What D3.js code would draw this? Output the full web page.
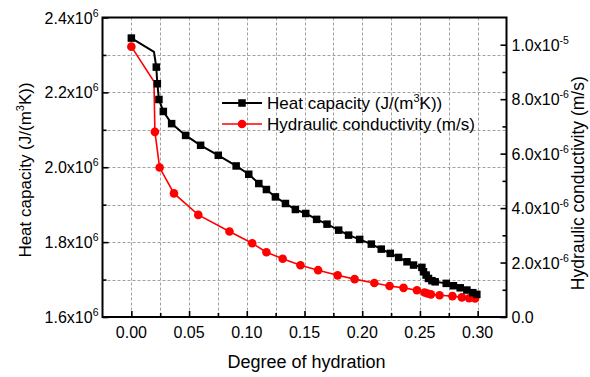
<!DOCTYPE html>
<html>
<head>
<meta charset="utf-8">
<script src="https://cdn.jsdelivr.net/npm/d3@7"></script>
<style>
  html, body { margin: 0; padding: 0; background: #fff; }
  svg { display: block; font-family: Arial, "Liberation Sans", sans-serif; }
</style>
</head>
<body>
<svg id="chart" width="590" height="377"></svg>
<script>
// Heat capacity (left axis), J/(m^3 K)
const heatX = [0, 0.0196, 0.0216, 0.0225, 0.0239, 0.0277, 0.0349, 0.047, 0.06, 0.0753, 0.0908,
  0.1017, 0.1104, 0.117, 0.1248, 0.1335, 0.1421, 0.1511, 0.1605, 0.1695, 0.1796, 0.1882,
  0.1978, 0.2079, 0.2165, 0.2243, 0.2315, 0.2388, 0.2445, 0.2517, 0.2531, 0.2554, 0.2574,
  0.2604, 0.2632, 0.2728, 0.279, 0.2849, 0.2907, 0.2958, 0.2993];
const heatY = [2.345e6, 2.308e6, 2.2675e6, 2.223e6, 2.181e6, 2.149e6, 2.1165e6, 2.085e6, 2.0587e6,
  2.032e6, 2.0035e6, 1.9813e6, 1.9565e6, 1.9405e6, 1.9208e6, 1.9032e6, 1.8872e6, 1.8765e6,
  1.8608e6, 1.848e6, 1.832e6, 1.8187e6, 1.8072e6, 1.7947e6, 1.7813e6, 1.7699e6, 1.7592e6,
  1.7475e6, 1.7387e6, 1.7325e6, 1.7208e6, 1.712e6, 1.703e6, 1.697e6, 1.694e6, 1.6898e6,
  1.6835e6, 1.678e6, 1.672e6, 1.665e6, 1.6605e6];
// vertices of the polyline that carry no symbol
const heatPlain = [1];

// Hydraulic conductivity (right axis), m/s
const condX = [0, 0.0196, 0.0204, 0.0245, 0.0369, 0.058, 0.085, 0.1047, 0.117, 0.1311, 0.1465,
  0.1618, 0.1787, 0.1934, 0.2105, 0.2237, 0.2358, 0.2474, 0.254, 0.2566, 0.2595, 0.267,
  0.2782, 0.2863, 0.2926, 0.2978];
const condY = [9.93e-6, 8.65e-6, 6.8e-6, 5.49e-6, 4.54e-6, 3.75e-6, 3.14e-6, 2.71e-6, 2.38e-6,
  2.14e-6, 1.9e-6, 1.72e-6, 1.53e-6, 1.39e-6, 1.25e-6, 1.14e-6, 1.07e-6, 0.985e-6, 0.9e-6,
  0.865e-6, 0.83e-6, 0.8e-6, 0.766e-6, 0.72e-6, 0.69e-6, 0.68e-6];
const condPlain = [1];

const xTicks = [0, 0.05, 0.10, 0.15, 0.20, 0.25, 0.30];
const xMinor = [-0.025, 0.025, 0.075, 0.125, 0.175, 0.225, 0.275, 0.325];
const leftTicks = [1.6e6, 1.8e6, 2.0e6, 2.2e6, 2.4e6];
const leftMinor = [1.7e6, 1.9e6, 2.1e6, 2.3e6];
const leftLabels = ["1.6", "1.8", "2.0", "2.2", "2.4"];
const rightTicks = [0, 2e-6, 4e-6, 6e-6, 8e-6, 1e-5];
const rightMinor = [1e-6, 3e-6, 5e-6, 7e-6, 9e-6];
const rightLabels = [["0.0", ""], ["2.0", "-6"], ["4.0", "-6"], ["6.0", "-6"], ["8.0", "-6"], ["1.0", "-5"]];
const seriesNames = ["Heat capacity (J/(m", "Hydraulic conductivity (m/s)"];

const svg = d3.select("#chart");
const L = 102.5, R = 506.5, T = 17.5, B = 317;

const x = d3.scaleLinear().domain([-0.025, 0.325]).range([L, R]);
const yL = d3.scaleLinear().domain([1.6e6, 2.4e6]).range([B, T]);
const yR = d3.scaleLinear().domain([0, 1.1e-5]).range([B, T]);

// grid
const grid = svg.append("g").attr("stroke", "#a0a0a0").attr("stroke-width", 1)
  .attr("stroke-dasharray", "3,2").attr("fill", "none");
xTicks.concat(xMinor).filter(v => v > -0.02 && v < 0.32).forEach(v => {
  grid.append("line").attr("x1", Math.round(x(v)) + 0.5).attr("x2", Math.round(x(v)) + 0.5)
    .attr("y1", T).attr("y2", B);
});
leftTicks.concat(leftMinor).filter(v => v > 1.61e6 && v < 2.39e6).forEach(v => {
  grid.append("line").attr("y1", Math.round(yL(v)) + 0.5).attr("y2", Math.round(yL(v)) + 0.5)
    .attr("x1", L).attr("x2", R);
});

// axes (ticks inward)
function styleAxis(g) {
  g.selectAll(".domain").remove();
  g.selectAll(".tick line").attr("stroke", "#000").attr("stroke-width", 1.6);
  g.selectAll(".tick text").remove();
}
svg.append("g").attr("transform", `translate(0,${B})`)
  .call(d3.axisBottom(x).tickValues(xTicks).tickSize(-6)).call(styleAxis);
svg.append("g").attr("transform", `translate(0,${B})`)
  .call(d3.axisBottom(x).tickValues(xMinor.slice(1, -1)).tickSize(-4)).call(styleAxis);
svg.append("g").attr("transform", `translate(${L},0)`)
  .call(d3.axisLeft(yL).tickValues(leftTicks).tickSize(-6)).call(styleAxis);
svg.append("g").attr("transform", `translate(${L},0)`)
  .call(d3.axisLeft(yL).tickValues(leftMinor).tickSize(-4)).call(styleAxis);
svg.append("g").attr("transform", `translate(${R},0)`)
  .call(d3.axisRight(yR).tickValues(rightTicks).tickSize(-6)).call(styleAxis);
svg.append("g").attr("transform", `translate(${R},0)`)
  .call(d3.axisRight(yR).tickValues(rightMinor).tickSize(-4)).call(styleAxis);

// frame
svg.append("rect").attr("x", L).attr("y", T).attr("width", R - L).attr("height", B - T)
  .attr("fill", "none").attr("stroke", "#000").attr("stroke-width", 2);

// tick labels
const fs = 16;
xTicks.forEach(v => {
  svg.append("text").attr("x", x(v)).attr("y", B + 21).attr("text-anchor", "middle")
    .attr("font-size", fs).text(v.toFixed(2));
});
leftTicks.forEach((v, i) => {
  const t = svg.append("text").attr("x", L - 4).attr("y", yL(v) + 6)
    .attr("text-anchor", "end").attr("font-size", fs);
  t.append("tspan").text(leftLabels[i] + "x10");
  t.append("tspan").attr("dy", -7).attr("font-size", 10.5).text("6");
});
rightTicks.forEach((v, i) => {
  const t = svg.append("text").attr("x", R + 5).attr("y", yR(v) + 6)
    .attr("text-anchor", "start").attr("font-size", fs);
  if (rightLabels[i][1]) {
    t.append("tspan").text(rightLabels[i][0] + "x10");
    t.append("tspan").attr("dy", -7).attr("font-size", 10.5).text(rightLabels[i][1]);
  } else {
    t.append("tspan").text(rightLabels[i][0]);
  }
});

// axis titles
svg.append("text").attr("x", (L + R) / 2 + 2).attr("y", 368).attr("text-anchor", "middle")
  .attr("font-size", 18).text("Degree of hydration");
const lt = svg.append("text").attr("transform", `translate(31,170) rotate(-90)`)
  .attr("text-anchor", "middle").attr("font-size", 17);
lt.append("tspan").text("Heat capacity (J/(m");
lt.append("tspan").attr("dy", -7).attr("font-size", 11).text("3");
lt.append("tspan").attr("dy", 7).text("K))");
svg.append("text").attr("transform", `translate(584,${(T + B) / 2 + 16}) rotate(-90)`)
  .attr("text-anchor", "middle").attr("font-size", 17.5).text("Hydraulic conductivity (m/s)");

// series
const heat = heatX.map((d, i) => ({ x: d, y: heatY[i], plain: heatPlain.includes(i) }));
const cond = condX.map((d, i) => ({ x: d, y: condY[i], plain: condPlain.includes(i) }));

svg.append("path").datum(cond).attr("fill", "none").attr("stroke", "#ff0000").attr("stroke-width", 1.6)
  .attr("d", d3.line().x(d => x(d.x)).y(d => yR(d.y)));
svg.append("g").selectAll("circle").data(cond.filter(d => !d.plain)).join("circle")
  .attr("cx", d => x(d.x)).attr("cy", d => yR(d.y)).attr("r", 4.3).attr("fill", "#ff0000");

svg.append("path").datum(heat).attr("fill", "none").attr("stroke", "#000").attr("stroke-width", 2)
  .attr("d", d3.line().x(d => x(d.x)).y(d => yL(d.y)));
const sq = 7.5;
svg.append("g").selectAll("rect").data(heat.filter(d => !d.plain)).join("rect")
  .attr("x", d => x(d.x) - sq / 2).attr("y", d => yL(d.y) - sq / 2)
  .attr("width", sq).attr("height", sq).attr("fill", "#000");

// legend
const lg = svg.append("g");
const rows = [{ y: 103, color: "#000", shape: "square" }, { y: 124, color: "#ff0000", shape: "circle" }];
rows.forEach((r, i) => {
  lg.append("line").attr("x1", 222).attr("x2", 262).attr("y1", r.y).attr("y2", r.y)
    .attr("stroke", r.color).attr("stroke-width", i === 0 ? 2 : 1.6);
  if (r.shape === "square") {
    lg.append("rect").attr("x", 242 - sq / 2).attr("y", r.y - sq / 2).attr("width", sq).attr("height", sq).attr("fill", r.color);
  } else {
    lg.append("circle").attr("cx", 242).attr("cy", r.y).attr("r", 4.3).attr("fill", r.color);
  }
  const t = lg.append("text").attr("x", 267).attr("y", r.y + 6).attr("font-size", 17);
  t.append("tspan").text(seriesNames[i]);
  if (i === 0) {
    t.append("tspan").attr("dy", -7).attr("font-size", 11).text("3");
    t.append("tspan").attr("dy", 7).text("K))");
  }
});
</script>
</body>
</html>
